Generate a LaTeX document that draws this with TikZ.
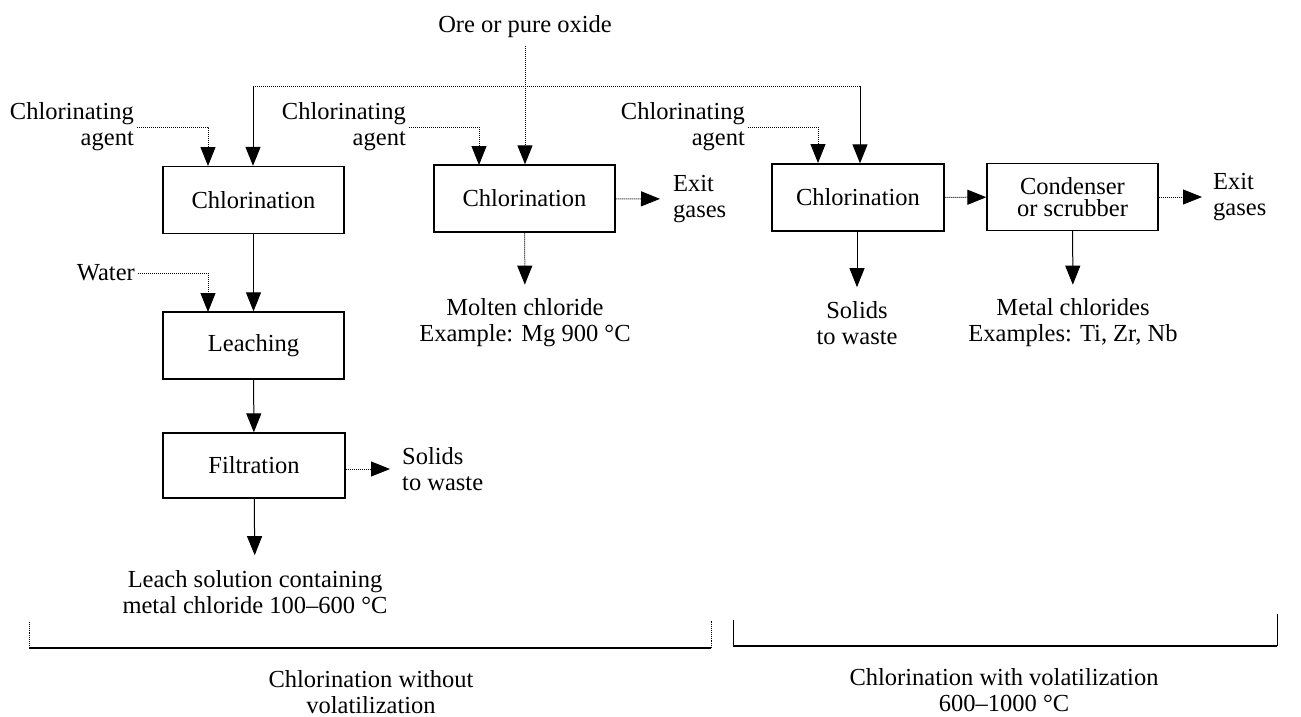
\documentclass[tikz,border=0pt]{standalone}
\usepackage{fontspec}
\setmainfont{Liberation Serif}
\usetikzlibrary{arrows.meta}
\begin{document}
\begin{tikzpicture}[x=1pt,y=-1pt,
  font=\fontsize{24.5}{26}\selectfont,
  proc/.style={draw, line width=1.3pt, minimum height=67pt, inner sep=2pt, align=center},
  lbl/.style={inner sep=3pt, align=center},
  flow/.style={line width=1pt, -{Triangle[length=19pt,width=15pt]}},
  dflow/.style={flow, densely dotted},
  dline/.style={line width=1pt, densely dotted},
  brk/.style={line width=0.9pt},
  brkbase/.style={line width=2.4pt}]
\path[fill=white,use as bounding box] (0,0) rectangle (1301,717);

% boxes
\node[proc, minimum width=181pt] (b1) at (253.5,200) {Chlorination};
\node[proc, minimum width=181pt] (b2) at (524.5,198.5) {Chlorination};
\node[proc, minimum width=172pt] (b3) at (858,197.5) {Chlorination};
\node[proc, minimum width=171pt] (b4) at (1072.5,197) {Condenser\\[-4pt]or scrubber};
\node[proc, minimum width=181pt] (le) at (253.5,345.5) {Leaching};
\node[proc, minimum width=182pt, minimum height=65pt] (fi) at (254,465.5) {Filtration};

% labels
\node[lbl, anchor=base] (ore) at (525,33) {Ore or pure oxide};
\node[lbl, align=right, anchor=east] (a1) at (137,127) {Chlorinating\\agent};
\node[lbl, align=right, anchor=east] (a2) at (409,127) {Chlorinating\\agent};
\node[lbl, align=right, anchor=east] (a3) at (748,127) {Chlorinating\\agent};
\node[lbl, anchor=east] (wa) at (138,273) {Water};
\node[lbl, align=left, anchor=west] (eg1) at (670,199) {Exit\\gases};
\node[lbl, align=left, anchor=west] (eg2) at (1210,197) {Exit\\gases};
\node[lbl] (mo) at (525,323) {Molten chloride\\Example: Mg 900 °C};
\node[lbl] (sw2) at (857,323) {Solids\\to waste};
\node[lbl] (mc) at (1073,323) {Metal chlorides\\Examples: Ti, Zr, Nb};
\node[lbl, align=left, anchor=west] (sw1) at (399,469) {Solids\\to waste};
\node[lbl] (ls) at (255,592) {Leach solution containing\\metal chloride 100--600 °C};
\node[lbl] (t1) at (371,692) {Chlorination without\\volatilization};
\node[lbl] (t2) at (1004,690) {Chlorination with volatilization\\600--1000 °C};

% junctions
\coordinate (tl) at (253,86);
\coordinate (tr) at (860,86);
\coordinate (tm) at (525,86);

% ore feed
\draw[dline, shorten <=5pt] (ore) -- (tm);
\draw[dflow] (tm) -- (b2.north -| tm);
\draw[dline] (tl) -- (tr);
\draw[flow] (tl) -- (b1.north -| tl);
\draw[flow] (tr) -- (b3.north -| tr);

% chlorinating agents
\coordinate (i1) at (208,166);
\coordinate (i2) at (479,165);
\coordinate (i3) at (818,163);
\draw[dflow] (a1.east) -| (i1);
\draw[dflow] (a2.east) -| (i2);
\draw[dflow] (a3.east) -| (i3);

% left chain
\coordinate (iw) at (208,312);
\draw[dflow] (wa.east) -| (iw);
\draw[flow] (b1) -- (le);
\draw[flow] (le) -- (fi);
\draw[flow, shorten >=12pt] (fi) -- (ls);
\draw[dflow, shorten >=9pt] (fi.east |- sw1.west) -- (sw1.west);

% middle
\draw[dflow, shorten >=10pt] (b2) -- (eg1);
\draw[dflow, shorten >=11pt] (b2) -- (mo);

% right
\draw[dflow] (b3) -- (b4);
\draw[dflow, shorten >=8pt] (b4) -- (eg2);
\draw[flow, shorten >=11pt] (b3.south -| sw2) -- (sw2);
\draw[flow, shorten >=11pt] (b4) -- (mc);

% brackets
\coordinate (l1) at (29,622); \coordinate (l2) at (29,648);
\coordinate (l3) at (711,648); \coordinate (l4) at (711,620);
\coordinate (r1) at (733,620); \coordinate (r2) at (733,646);
\coordinate (r3) at (1277,646); \coordinate (r4) at (1277,614);
\draw[brk, densely dotted] (l1) -- (l2);
\draw[brk, densely dotted] (l3) -- (l4);
\draw[brkbase] (l2) -- (l3);
\draw[brk] (r1) -- (r2);
\draw[brk] (r3) -- (r4);
\draw[brkbase] (r2) -- (r3);
\end{tikzpicture}
\end{document}
